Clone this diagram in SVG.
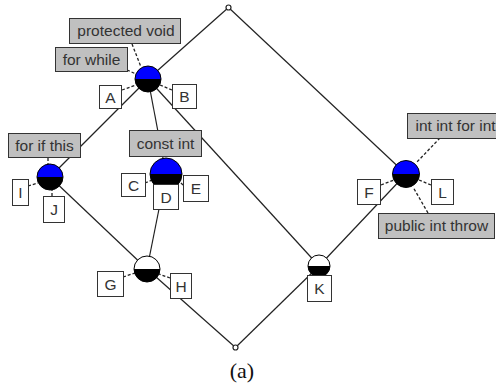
<svg xmlns="http://www.w3.org/2000/svg" width="496" height="385" viewBox="0 0 496 385">
<style>
.edge{stroke:#222;stroke-width:1.2;fill:none}
.dash{stroke:#222;stroke-width:1.3;fill:none;stroke-dasharray:3 2}
.lbl{fill:#c0c0c0;stroke:#333;stroke-width:1}
.box{fill:#fff;stroke:#333;stroke-width:1}
.t{font-family:"Liberation Sans",Arial,sans-serif;font-size:15.5px;fill:#333;text-anchor:middle}
.blue{fill:#0000ff}
.blk{fill:#000}
.wht{fill:#fff}
.ring{fill:none;stroke:#000;stroke-width:1}
.pt{fill:#fff;stroke:#222;stroke-width:1.2}
</style>
<rect width="496" height="385" fill="#fff"/>
<g id="connectors">
<line class="edge" x1="228.5" y1="7.5" x2="148" y2="79"/>
<line class="edge" x1="228.5" y1="7.5" x2="406" y2="174"/>
<line class="edge" x1="148" y1="79" x2="50" y2="177"/>
<line class="edge" x1="148" y1="79" x2="166" y2="174"/>
<line class="edge" x1="148" y1="79" x2="319" y2="266"/>
<line class="edge" x1="50" y1="177" x2="147" y2="269"/>
<line class="edge" x1="166" y1="174" x2="147" y2="269"/>
<line class="edge" x1="147" y1="269" x2="235.5" y2="347.5"/>
<line class="edge" x1="406" y1="174" x2="319" y2="266"/>
<line class="edge" x1="319" y1="266" x2="235.5" y2="347.5"/>
<line class="dash" x1="132" y1="44" x2="141" y2="67"/>
<line class="dash" x1="127" y1="70" x2="136" y2="74"/>
<line class="dash" x1="122" y1="90" x2="136" y2="85"/>
<line class="dash" x1="172" y1="90" x2="160" y2="85"/>
<line class="dash" x1="48" y1="158" x2="48" y2="164"/>
<line class="dash" x1="28" y1="186" x2="38" y2="183"/>
<line class="dash" x1="52" y1="196" x2="52" y2="190"/>
<line class="dash" x1="145" y1="183" x2="152" y2="180"/>
<line class="dash" x1="183" y1="185" x2="180" y2="182"/>
<line class="dash" x1="123" y1="277" x2="135" y2="273"/>
<line class="dash" x1="170" y1="278" x2="159" y2="274"/>
<line class="dash" x1="440" y1="138" x2="416" y2="163"/>
<line class="dash" x1="428" y1="213" x2="413" y2="187"/>
<line class="dash" x1="381" y1="185" x2="394" y2="180"/>
<line class="dash" x1="431" y1="185" x2="419" y2="180"/>
</g>
<g id="top"><circle class="pt" cx="228.5" cy="7.5" r="2.5"/></g>
<g id="bottom"><circle class="pt" cx="235.5" cy="347.5" r="2.5"/></g>
<g id="n1">
<path class="blue" d="M135,79 A13,13 0 0 1 161,79 Z"/>
<path class="blk" d="M135,79 A13,13 0 0 0 161,79 Z"/>
<circle class="ring" cx="148" cy="79" r="13"/>
<rect class="lbl" x="69.5" y="18.5" width="111" height="25"/>
<text class="t" x="126" y="36">protected void</text>
<rect class="lbl" x="55.5" y="47.5" width="72" height="24"/>
<text class="t" x="91.5" y="65">for while</text>
<rect class="box" x="99.5" y="85.5" width="22" height="23"/>
<text class="t" x="110.5" y="102.5">A</text>
<rect class="box" x="172.5" y="84.5" width="24" height="24"/>
<text class="t" x="184.5" y="102">B</text>
</g>
<g id="n2">
<path class="blue" d="M37,177 A13,13 0 0 1 63,177 Z"/>
<path class="blk" d="M37,177 A13,13 0 0 0 63,177 Z"/>
<circle class="ring" cx="50" cy="177" r="13"/>
<rect class="lbl" x="8.5" y="133.5" width="72" height="24"/>
<text class="t" x="44.5" y="151">for if this</text>
<rect class="box" x="12.5" y="179.5" width="16" height="26"/>
<text class="t" x="20.5" y="198">I</text>
<rect class="box" x="43.5" y="196.5" width="21" height="26"/>
<text class="t" x="54" y="215">J</text>
</g>
<g id="n3">
<path class="blue" d="M150,174 A16,16 0 0 1 182,174 Z"/>
<path class="blk" d="M150,174 A16,16 0 0 0 182,174 Z"/>
<circle class="ring" cx="166" cy="174" r="16"/>
<rect class="lbl" x="129.5" y="130.5" width="72" height="26"/>
<text class="t" x="165.5" y="149">const int</text>
<rect class="box" x="121.5" y="173.5" width="24" height="23"/>
<text class="t" x="133.5" y="190.5">C</text>
<rect class="box" x="153.5" y="184.5" width="25" height="25"/>
<text class="t" x="166" y="202.5">D</text>
<rect class="box" x="183.5" y="175.5" width="25" height="26"/>
<text class="t" x="196" y="194">E</text>
</g>
<g id="n4">
<path class="wht" d="M134,269 A13,13 0 0 1 160,269 Z"/>
<path class="blk" d="M134,269 A13,13 0 0 0 160,269 Z"/>
<circle class="ring" cx="147" cy="269" r="13"/>
<rect class="box" x="97.5" y="271.5" width="26" height="25"/>
<text class="t" x="110.5" y="289.5">G</text>
<rect class="box" x="170.5" y="273.5" width="21" height="25"/>
<text class="t" x="181" y="291.5">H</text>
</g>
<g id="n5">
<path class="wht" d="M308,266 A11,11 0 0 1 330,266 Z"/>
<path class="blk" d="M308,266 A11,11 0 0 0 330,266 Z"/>
<circle class="ring" cx="319" cy="266" r="11"/>
<rect class="box" x="307.5" y="275.5" width="24" height="26"/>
<text class="t" x="319.5" y="294">K</text>
</g>
<g id="n6">
<path class="blue" d="M392.5,174 A13.5,13.5 0 0 1 419.5,174 Z"/>
<path class="blk" d="M392.5,174 A13.5,13.5 0 0 0 419.5,174 Z"/>
<circle class="ring" cx="406" cy="174" r="13.5"/>
<rect class="lbl" x="407.5" y="113.5" width="95" height="25"/>
<text class="t" x="415.5" y="131" style="text-anchor:start">int int for int</text>
<rect class="lbl" x="378.5" y="213.5" width="116" height="25"/>
<text class="t" x="436.5" y="231">public int throw</text>
<rect class="box" x="357.5" y="179.5" width="23" height="25"/>
<text class="t" x="369" y="197.5">F</text>
<rect class="box" x="431.5" y="179.5" width="22" height="25"/>
<text class="t" x="442.5" y="197.5">L</text>
</g>
<text x="242" y="378" style="font-family:'Liberation Serif','Times New Roman',serif;font-size:22px;fill:#111;text-anchor:middle">(a)</text>
</svg>
